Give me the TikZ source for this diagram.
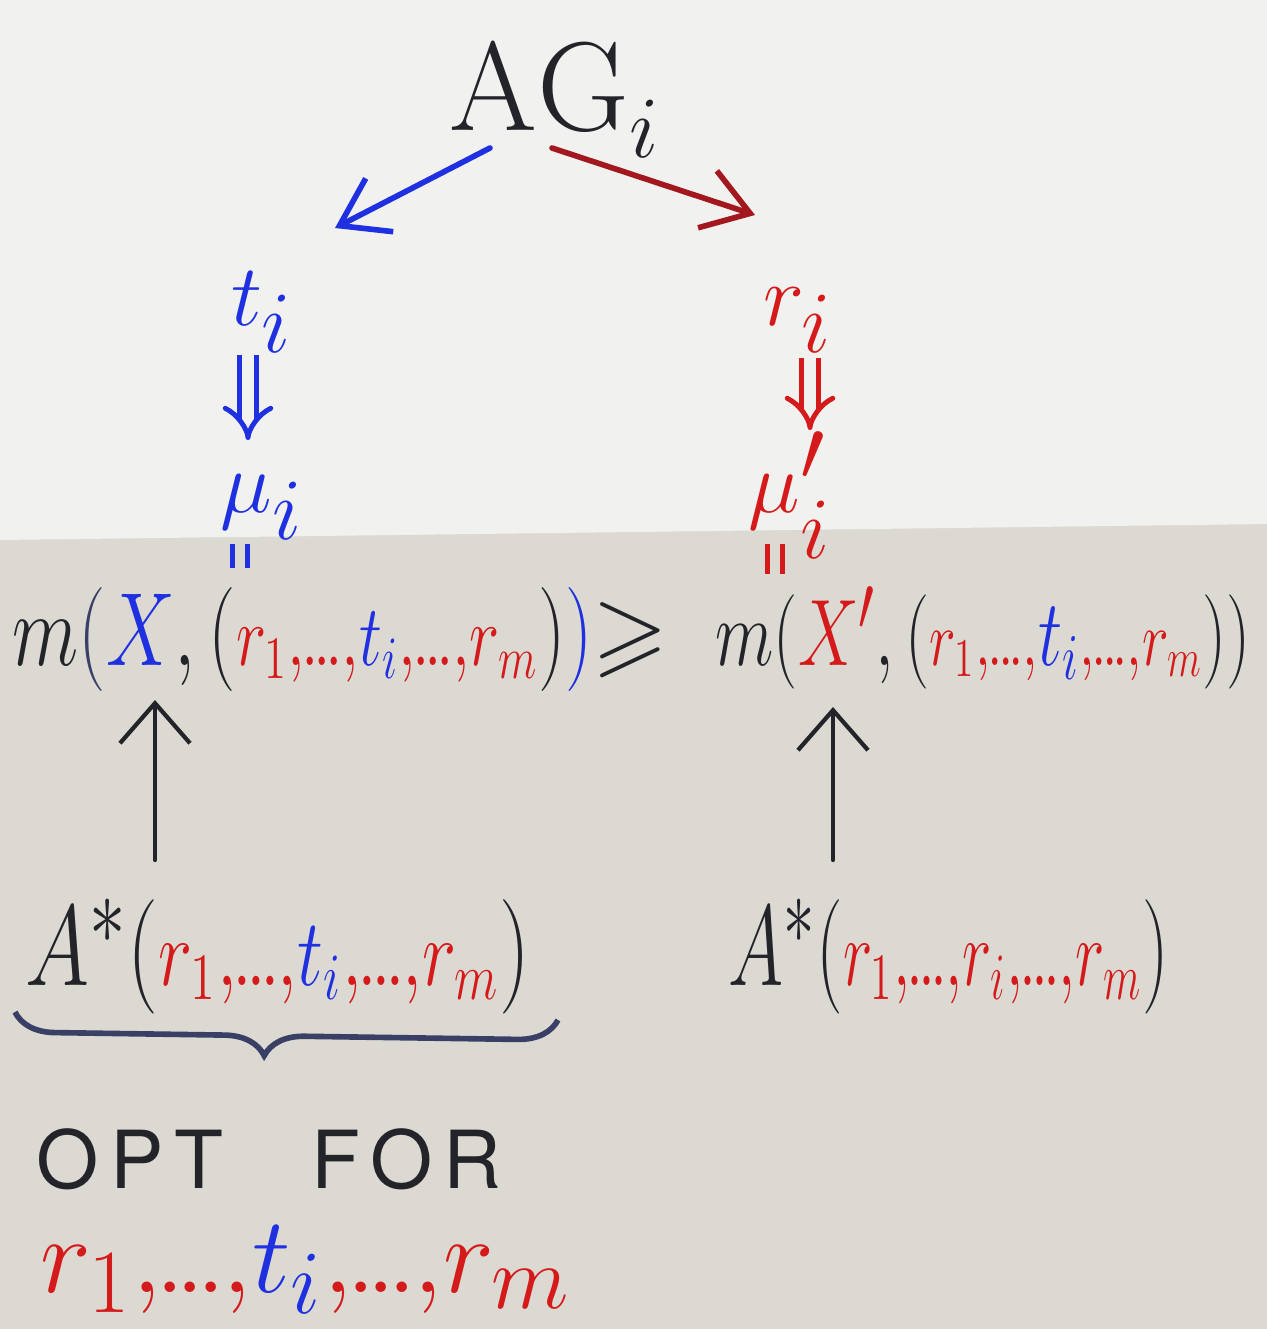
\documentclass[tikz,border=0pt]{standalone}
\usepackage{amssymb}
\usepackage{graphicx}
\usepackage{fontspec}
\usetikzlibrary{arrows.meta, calc, decorations.pathreplacing}
\definecolor{paperlight}{HTML}{F1F1EF}
\definecolor{papergrey}{HTML}{DCD9D2}
\definecolor{penblue}{HTML}{1F30E0}
\definecolor{penred}{HTML}{D41A1A}
\definecolor{pendarkred}{HTML}{A3181F}
\definecolor{penink}{HTML}{23232A}
\definecolor{pennavy}{HTML}{3A3F66}
\newfontfamily\capsfont[LetterSpace=14]{TeX Gyre Heros}
\newcommand{\inred}[1]{{\color{penred}#1}}
\newcommand{\inblue}[1]{{\color{penblue}#1}}
\newcommand{\sdots}{\inred{{,}\mkern-1mu{.}\mkern-1.5mu{.}\mkern-1.5mu{.}\mkern-0.5mu{,}}}
\newcommand{\tup}[1]{\mbox{\fontsize{20}{24}\selectfont$#1$}}
\newcommand{\bigti}{\inblue{\mbox{\fontsize{27}{30}\selectfont$t_i$}}}
\begin{document}
\begin{tikzpicture}[x=0.1mm, y=-0.1mm,
    big/.style={font=\fontsize{38}{44}\selectfont, inner sep=0pt, anchor=base},
    rowfont/.style={font=\fontsize{28}{34}\selectfont, inner sep=0pt},
    pen/.style={line width=1.6pt, line cap=round},
    blueline/.style={pen, penblue, -{Straight Barb[length=4.5mm,width=6mm]}},
    redline/.style={pen, pendarkred, -{Straight Barb[length=4.5mm,width=6mm]}},
    implies/.style={line width=1.4pt, double distance=3.5pt, -{Implies}},
    equalmark/.style={line width=1.6pt, double distance=2.6pt, double=papergrey},
    uparrow/.style={penink, line width=1.2pt, line cap=round,
      -{Straight Barb[length=4mm,width=7mm]}},
    bracestyle/.style={pennavy, line width=1.6pt, decorate,
      decoration={brace, mirror, amplitude=4mm, aspect=0.46}}
  ]
  % paper
  \fill[papergrey] (0,0) rectangle (1267,1329);
  \fill[paperlight] (0,0) -- (1267,0) -- (1267,524) -- (0,540) -- cycle;
  \useasboundingbox (0,0) rectangle (1267,1329);

  % top of the tree
  \node[big, penink, font=\fontsize{36}{40}\selectfont] (agi) at (555,130) {$\mathrm{AG}_i$};
  \node[big, penblue] (ti) at (262,325) {$t_i$};
  \node[big, penred] (ri) at (798,325) {$r_i$};
  \node[big, penblue] (mui) at (262,512) {$\mu_i$};
  \node[big, penred] (muip) at (790,512) {$\mu'_i$};

  \draw[blueline] ($(agi.base)+(-65,18)$) -- ($(ti.base)+(73,-97)$);
  \draw[redline] ($(agi.base)+(-3,18)$) -- ($(ri.base)+(-43,-110)$);
  \draw[implies, penblue, double=paperlight]
    ($(ti.base)+(-14,30)$) -- ($(mui.base)+(-14,-72)$);
  \draw[implies, penred, double=paperlight]
    ($(ri.base)+(12,33)$) -- ($(muip.base)+(20,-82)$);

  % the inequality
  \node[rowfont, anchor=base west, penink] (mleft) at (12,665)
    {\resizebox{5.8cm}{0.78cm}{$m{\color{pennavy}(}\inblue{X}{,}\,(\tup{
      \inred{r_1}\sdots\inblue{t_i}\sdots\inred{r_m}})\inblue{)}$}};
  \node[rowfont, penink, font=\fontsize{30}{36}\selectfont] (geq) at (630,640)
    {\resizebox{!}{0.62cm}{$\geqslant$}};
  \node[rowfont, anchor=base west, penink] (mright) at (715,665)
    {\resizebox{5.35cm}{0.78cm}{$m(\inred{X'}{,}\,(\tup{
      \inred{r_1}\sdots\bigti\sdots\inred{r_m}}))$}};

  \draw[equalmark, penblue] ($(mui.base)+(-22,32)$) -- ++(0,24);
  \draw[equalmark, penred] ($(muip.base)+(-15,32)$) -- ++(0,30);

  % optimal schedules
  \node[rowfont, anchor=base west, penink] (astl) at (25,985)
    {\resizebox{5.05cm}{0.86cm}{$A^{*}\bigl(\tup{\inred{r_1}\sdots\inblue{t_i}\sdots\inred{r_m}}\bigr)$}};
  \node[rowfont, anchor=base west, penink] (astr) at (728,985)
    {\resizebox{4.4cm}{0.86cm}{$A^{*}\bigl(\tup{\inred{r_1}\sdots\inred{r_i}\sdots\inred{r_m}}\bigr)$}};

  \coordinate (upL) at (155,0);
  \coordinate (upR) at (833,0);
  \draw[uparrow] ($(upL |- astl.base)+(0,-125)$) -- ($(upL |- mleft.base)+(0,35)$);
  \draw[uparrow] ($(upR |- astr.base)+(0,-125)$) -- ($(upR |- mright.base)+(0,42)$);

  \coordinate (brL) at (15,1012);
  \coordinate (brR) at (558,1020);
  \draw[bracestyle] (brL) -- (brR);

  \node[anchor=base west, inner sep=0pt, penink,
    font=\capsfont\fontsize{24}{28}\selectfont] (opt) at (36,1188)
    {\resizebox{4.65cm}{!}{OPT\hspace{1.1em}FOR}};
  \node[anchor=base west, inner sep=0pt, font=\fontsize{30}{36}\selectfont]
    (tuple) at (40,1292)
    {\resizebox{5.3cm}{!}{$\inred{r_1}\sdots\inblue{t_i}\sdots\inred{r_m}$}};
\end{tikzpicture}
\end{document}
